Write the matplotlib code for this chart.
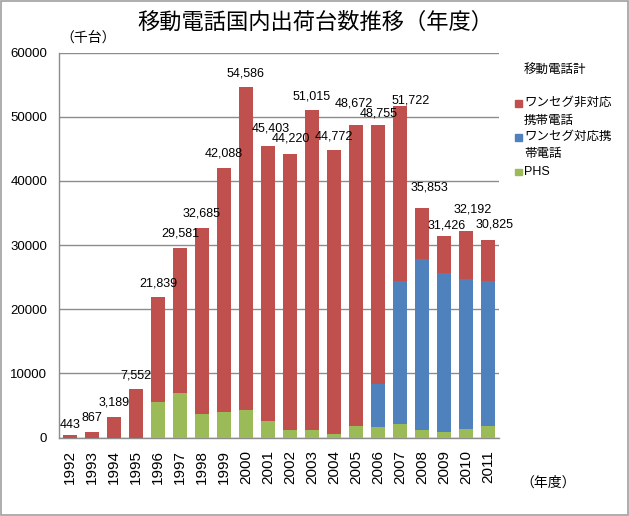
import matplotlib
matplotlib.use("Agg")
from matplotlib import pyplot as plt
from matplotlib.patches import Rectangle

plt.rcParams['font.family'] = ['Liberation Sans', 'Noto Sans CJK JP', 'DejaVu Sans']

years = [str(y) for y in range(1992, 2012)]
totals = [443, 867, 3189, 7552, 21839, 29581, 32685, 42088, 54586, 45403,
          44220, 51015, 44772, 48672, 48755, 51722, 35853, 31426, 32192, 30825]
phs = [0, 0, 0, 0, 5570, 6870, 3690, 4000, 4210, 2600,
       1140, 1140, 620, 1720, 1610, 2130, 1140, 830, 1400, 1720]
oneseg = [0, 0, 0, 0, 0, 0, 0, 0, 0, 0,
          0, 0, 0, 0, 6660, 22350, 26760, 24790, 23340, 22710]
non_oneseg = [t - p - o for t, p, o in zip(totals, phs, oneseg)]

# label offsets in pixels (dx, dy above bar top)
label_off = [(0, 10), (0, 14), (0, 15), (0, 14), (0, 14), (0, 14), (0, 14), (0, 14),
             (0, 14), (3, 18), (1, 15), (0, 14), (0, 14), (-2, 22), (1, 11.5),
             (11, 5), (7, 20), (3, 10), (7, 22), (7, 15)]

RED = "#c0504d"
BLUE = "#4f81bd"
GREEN = "#9bbb59"
GRID = "#8c8c8c"

W, H = 629, 516
fig = plt.figure(figsize=(W / 100, H / 100), dpi=100)
ax = fig.add_axes([59 / W, 1 - 437.5 / H, 440 / W, (437.5 - 52.7) / H])

x = list(range(len(years)))
ax.bar(x, phs, width=0.64, color=GREEN, zorder=3)
ax.bar(x, oneseg, width=0.64, bottom=phs, color=BLUE, zorder=3)
bot2 = [p + o for p, o in zip(phs, oneseg)]
ax.bar(x, non_oneseg, width=0.64, bottom=bot2, color=RED, zorder=3)

for i, t in enumerate(totals):
    dx, dy = label_off[i]
    ax.annotate(f"{t:,}", xy=(i, t), xytext=(dx * 0.72, dy * 0.72),
                textcoords="offset points", ha="center", va="center", fontsize=9)

ax.set_xlim(-0.5, len(years) - 0.5)
ax.set_ylim(0, 60000)
ax.set_yticks(range(0, 60001, 10000))
ax.set_xticks(x)
ax.set_xticklabels(years, rotation=90, fontsize=11)
ax.tick_params(axis='x', length=0, pad=9)
ax.tick_params(axis='y', length=0, pad=8.5, labelsize=9.5)
ax.yaxis.grid(True, color=GRID, linewidth=1, zorder=0)
for s in ['top', 'right']:
    ax.spines[s].set_visible(False)
for s in ['left', 'bottom']:
    ax.spines[s].set_color(GRID)
    ax.spines[s].set_linewidth(1)

fig.text(315 / W, 1 - 22 / H, "移動電話国内出荷台数推移（年度）", fontsize=16,
         ha="center", va="center", family=['Noto Sans CJK JP'])
fig.text(60 / W, 1 - 38 / H, "（千台）", fontsize=10, ha="left", va="center",
         family=['Noto Sans CJK JP'])
fig.text(520 / W, 1 - 483 / H, "（年度）", fontsize=10, ha="left", va="center",
         family=['Noto Sans CJK JP'])

# legend drawn by hand
leg_items = [
    (None, ["移動電話計"], 70.7),
    (RED, ["ワンセグ非対応", "携帯電話"], 103),
    (BLUE, ["ワンセグ対応携", "帯電話"], 137),
    (GREEN, ["PHS"], 172),
]
for col, lines, y0 in leg_items:
    if col is not None:
        fig.patches.append(Rectangle((515 / W, 1 - (y0 + 3.5) / H), 6.5 / W, 6.5 / H,
                                     transform=fig.transFigure, color=col))
    for k, line in enumerate(lines):
        fig.text(524 / W, 1 - (y0 + k * 17.5) / H, line, fontsize=9,
                 ha="left", va="center")

fig.patches.append(Rectangle((1 / W, 1 / H), (W - 2) / W, (H - 2) / H,
                             transform=fig.transFigure, fill=False,
                             edgecolor="#a0a0a0", linewidth=1.2))

fig.savefig("out.png", dpi=100)
